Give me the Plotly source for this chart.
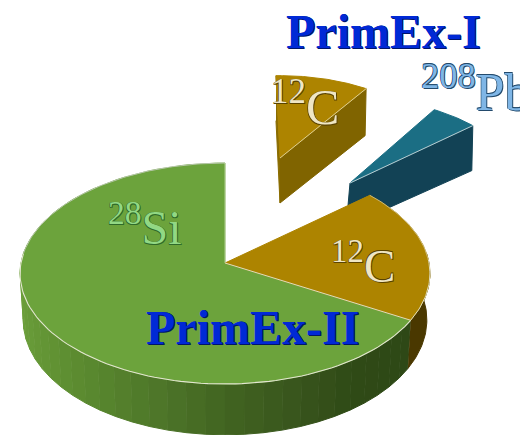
import numpy as np
import plotly.graph_objects as go

# Share of each target in percent, going counter-clockwise from twelve o'clock
target_names = ["28Si", "12C", "208Pb", "12C (PrimEx-I)"]
target_shares = [66.7, 19.7, 4.8, 8.8]

WIDTH, HEIGHT = 520, 435

# Perspective model of the disc, in axis units
CX, CY = 225.0, 263.0
FX, FY = 204.0, 109.5
PERSP = 0.095
DEPTH = 46.0
FOOT_SCALE = 0.985

C_EDGE = "#e4e6d2"
SI_TOP, C_TOP, PB_TOP = "#6ca33c", "#ad8400", "#1b6e84"
C_WALL_FRONT, C_WALL_LIFTED, PB_WALL = "#4a3800", "#806400", "#124255"

# Wall shading along the angle of the disc (degrees, colour)
SI_STOPS = [(170, (112, 164, 60)), (195, (106, 157, 58)), (215, (98, 148, 52)), (235, (88, 134, 46)),
            (255, (76, 116, 40)), (272, (64, 98, 32)), (290, (56, 84, 28)), (305, (47, 74, 22)),
            (330, (46, 72, 22))]

edges = 90 + np.cumsum([0] + [s * 3.6 for s in target_shares])
spans = {name: (edges[i], edges[i + 1]) for i, name in enumerate(target_names)}


def project(angle, radius=1.0, ox=CX, oy=CY, drop=0.0, squeeze=1.0):
    a = np.radians(angle)
    u, v = radius * np.cos(a), radius * np.sin(a)
    w = 1 + PERSP * v
    return ox + squeeze * FX * u / w, oy - FY * v / w + drop / w


def arc(a0, a1, n=90, **kw):
    return project(np.linspace(a0, a1, n), **kw)


fig = go.Figure()


def poly(xs, ys, fill, edge=None, width=1.0):
    fig.add_trace(go.Scatter(x=list(xs), y=list(ys), mode="lines", fill="toself", fillcolor=fill,
                             line=dict(color=edge or fill, width=width if edge else 1.0),
                             hoverinfo="skip", showlegend=False))


def rim(xs, ys, color=C_EDGE, width=1.0):
    fig.add_trace(go.Scatter(x=list(xs), y=list(ys), mode="lines", line=dict(color=color, width=width),
                             hoverinfo="skip", showlegend=False))


def top_face(a0, a1, fill, **kw):
    ax, ay = arc(a0, a1, **kw)
    ox, oy = kw.get("ox", CX), kw.get("oy", CY)
    poly([ox, *ax, ox], [oy, *ay, oy], fill)
    return ax, ay


# Lifted 208Pb wedge: its wall is cut off along the radial edge of the 12C slice below
pb0, pb1 = spans["208Pb"]
pb_kw = dict(radius=0.84, ox=350.0, oy=183.0)
corner_x, corner_y = project(pb0, **pb_kw)
c_edge_x, c_edge_y = project(spans["12C"][1])
low_x, low_y = corner_x - 1, corner_y + 45
foot_x, foot_y = 348.0, 226.0
cut_x = 348.0
cut_y = CY + (c_edge_y - CY) * (cut_x - CX) / (c_edge_x - CX)
poly([350, corner_x, low_x, low_x + 0.8 * (foot_x - low_x), c_edge_x, cut_x, 350],
     [183, corner_y, low_y, low_y + 0.8 * (foot_y - low_y), c_edge_y, cut_y, 183], PB_WALL)
top_face(pb0, pb1, PB_TOP, **pb_kw)
rim([350, corner_x], [183, corner_y], "#c9d6d8", 0.9)

# Lifted 12C wedge
c0, c1 = spans["12C (PrimEx-I)"]
c0, c1 = c0 - 2.0, c1 + 1.5
c_kw = dict(radius=0.81, ox=280.0, oy=158.0)
rx0, ry0 = project(c0, **c_kw)
lx1, ly1 = project(c1, **c_kw)
poly([lx1, 280, 280, lx1], [ly1, 158, 203, ly1 + 45], "#8a6c00")
poly([280, rx0, rx0 - 1, 280], [158, ry0, ry0 + 47, 203], C_WALL_LIFTED)
top_face(c0, c1, C_TOP, **c_kw)
rim([280, rx0], [158, ry0], "#e2d6a0", 0.9)

# Walls of the main disc, shaded band by band
band_edges = np.arange(170, 330.01, 5.0)
stop_a = [s[0] for s in SI_STOPS]
for a0, a1 in zip(band_edges[:-1], band_edges[1:]):
    mid = (a0 + a1) / 2
    r, g, b = [np.interp(mid, stop_a, [s[1][i] for s in SI_STOPS]) for i in range(3)]
    ux, uy = arc(a0, a1, n=8)
    dx, dy = arc(a1, a0, n=8, drop=DEPTH, squeeze=FOOT_SCALE)
    poly([*ux, *dx], [*uy, *dy], f"rgb({r:.0f},{g:.0f},{b:.0f})")

si0, si1 = spans["28Si"]
cm0, cm1 = spans["12C"]
ux, uy = arc(si1, 365, n=30)
dx, dy = arc(365, si1, n=30, drop=DEPTH, squeeze=FOOT_SCALE)
poly([*ux, *dx], [*uy, *dy], C_WALL_FRONT)

# Top faces of the main disc
sx, sy = top_face(si0, si1, SI_TOP)
kx, ky = top_face(cm0, cm1, C_TOP)

# Bright rims on the front edge and between slices
rim(*arc(175, si1), C_EDGE, 1.1)
rim(*arc(si1, 362, n=30), C_EDGE, 0.9)
rim(*arc(si0, 175), "#c9cfc4", 0.8)
rim([CX, sx[-1]], [CY, sy[-1]], C_EDGE, 0.9)
rim([CX, sx[0]], [CY, sy[0]], "#cfe0b8", 0.7)
rim(*arc(362, cm1, n=30), "#d8cfa8", 0.7)


def label(text, x, y, size, color, shadow, anchor="left"):
    fig.add_annotation(text=text, x=x, y=y, xref="x", yref="y", xanchor=anchor, yanchor="bottom",
                       showarrow=False, borderpad=0, align="left",
                       font=dict(family="Liberation Serif", size=size, color=color, shadow=shadow))


def bevel(dark):
    return f"1px 1px 0 {dark}, -0.5px -0.5px 0 {dark}, 0.5px -0.5px 0 {dark}, -0.5px 0.5px 0 {dark}"


BLUE_SHADOW = "1px 1px 0 #00156a, 0.5px 0 0 #00156a"
label("<b>PrimEx-I</b>", 285, 59, 48, "#0029d6", BLUE_SHADOW)
label("<b>PrimEx-II</b>", 145, 355, 48, "#0029d6", BLUE_SHADOW)
label("<sup>208</sup>Pb", 420, 122, 52, "#7fb6e6", bevel("#234a6c"))
label("<sup>12</sup>C", 270, 136, 50, "#efe6c4", bevel("#5a4300"))
label("<sup>12</sup>C", 330, 293, 47, "#efe6c4", bevel("#5a4300"))
label("<sup>28</sup>Si", 107, 255, 48, "#92d884", bevel("#2f6a2a"))

fig.update_layout(width=WIDTH, height=HEIGHT, margin=dict(l=0, r=0, t=0, b=0),
                  paper_bgcolor="white", plot_bgcolor="white", showlegend=False,
                  xaxis=dict(range=[0, WIDTH], visible=False, fixedrange=True),
                  yaxis=dict(range=[HEIGHT, 0], visible=False, fixedrange=True))
fig.write_html("out.html", config=dict(displayModeBar=False))
